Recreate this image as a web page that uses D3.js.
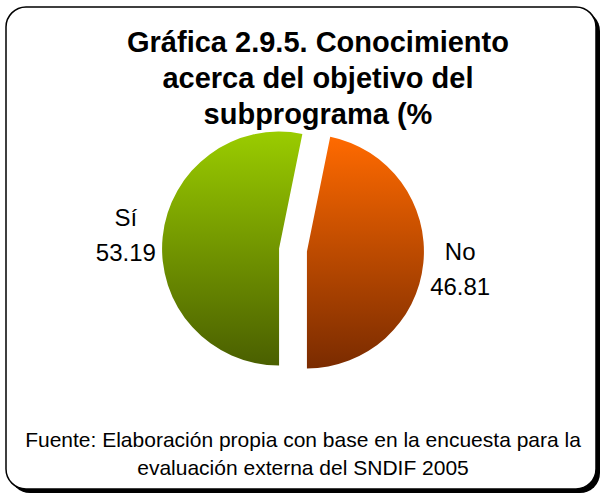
<!DOCTYPE html>
<html lang="es">
<head>
<meta charset="UTF-8">
<title>Gráfica 2.9.5</title>
<script src="https://d3js.org/d3.v7.min.js"></script>
<style>
  body { margin: 0; background: #fff; }
  text { font-family: "Liberation Sans", Arial, sans-serif; fill: #000; }
</style>
</head>
<body>
<svg id="chart" width="604" height="498"></svg>
<script>
  // data
  let categories = ['Sí', 'No'];
  let values = [53.19, 46.81];
  let titleLines = ['Gráfica 2.9.5. Conocimiento', 'acerca del objetivo del', 'subprograma (%'];
  let sourceLines = ['Fuente: Elaboración propia con base en la encuesta para la', 'evaluación externa del SNDIF 2005'];
  let gradStops = [['#9acc00', '#4a5f00'], ['#ff6a00', '#7a2b00']];

  let svg = d3.select('#chart');

  // frame with shadow
  svg.append('rect').attr('x', 10).attr('y', 11).attr('width', 590).attr('height', 482)
     .attr('rx', 20).attr('fill', '#000');
  svg.append('rect').attr('x', 6).attr('y', 7).attr('width', 590).attr('height', 482)
     .attr('rx', 20).attr('fill', '#fff').attr('stroke', '#000').attr('stroke-width', 1.5);

  let defs = svg.append('defs');
  gradStops.forEach((s, i) => {
    let g = defs.append('linearGradient').attr('id', 'grad' + i)
      .attr('x1', 0).attr('y1', 0).attr('x2', 0).attr('y2', 1);
    g.append('stop').attr('offset', '0%').attr('stop-color', s[0]);
    g.append('stop').attr('offset', '100%').attr('stop-color', s[1]);
  });

  // title
  svg.append('g').selectAll('text').data(titleLines).join('text')
    .attr('x', 318).attr('y', (d, i) => 52 + i * 36)
    .attr('text-anchor', 'middle').style('font-size', '29px').style('font-weight', 'bold')
    .text(d => d);

  // pie
  let cx = 293, cy = 250, r = 117, explode = 14;
  let data = categories.map((c, i) => ({ cat: c, val: values[i] }));
  let pie = d3.pie().value(d => d.val).sort(null).startAngle(Math.PI).endAngle(3 * Math.PI);
  let arc = d3.arc().innerRadius(0).outerRadius(r);
  let labelArc = d3.arc().innerRadius(168).outerRadius(168);
  let arcs = pie(data);

  let g = svg.append('g').attr('transform', `translate(${cx},${cy})`);
  g.selectAll('path').data(arcs).join('path')
    .attr('d', arc)
    .attr('fill', (d, i) => `url(#grad${i})`)
    .attr('transform', d => {
      let a = (d.startAngle + d.endAngle) / 2;
      return `translate(${explode * Math.sin(a)},${-explode * Math.cos(a)})`;
    });

  let lab = g.selectAll('g.lab').data(arcs).join('g').attr('class', 'lab')
    .attr('transform', d => `translate(${labelArc.centroid(d)})`);
  lab.append('text').attr('y', -7).attr('text-anchor', 'middle').style('font-size', '24px')
    .text(d => d.data.cat);
  lab.append('text').attr('y', 28).attr('text-anchor', 'middle').style('font-size', '24px')
    .text(d => d.data.val.toFixed(2));

  // source
  svg.append('g').selectAll('text').data(sourceLines).join('text')
    .attr('x', 303).attr('y', (d, i) => 447 + i * 28)
    .attr('text-anchor', 'middle').style('font-size', '21px')
    .text(d => d);
</script>
</body>
</html>
